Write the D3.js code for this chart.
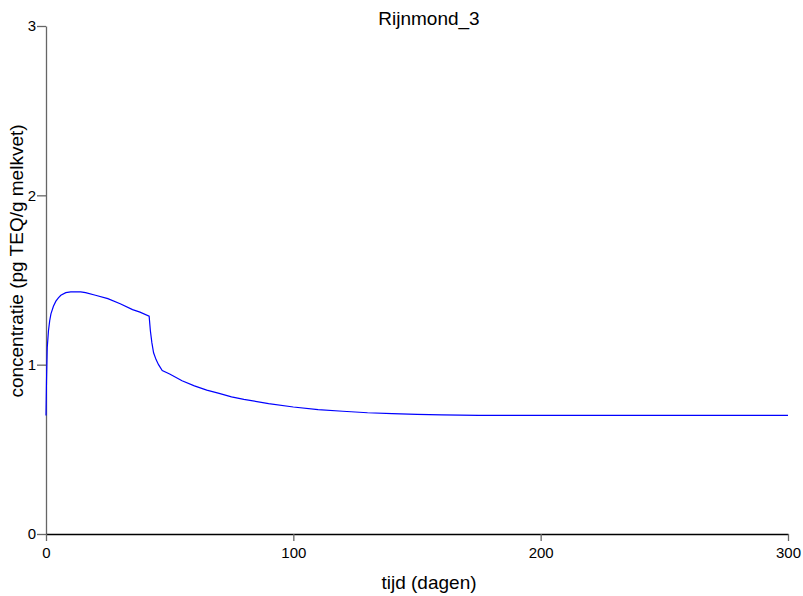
<!DOCTYPE html>
<html>
<head>
<meta charset="utf-8">
<script src="https://cdn.jsdelivr.net/npm/d3@7"></script>
<style>
 body { margin:0; background:#fff; }
 text { font-family: Arial, "Liberation Sans", sans-serif; fill:#000; }
 .tick text { font-size:15px; }
</style>
</head>
<body>
<svg id="chart" width="803" height="596"></svg>
<script>
// tijd (dagen) en concentratie
var tijd = [0, 0.2, 0.5, 1, 1.5, 2, 3, 4, 5, 6, 8, 10, 14, 16, 20, 25, 30, 35, 38, 41.7,
            42.2, 42.8, 43.5, 44.5, 45.5, 47, 50, 55, 60, 65, 70, 75, 80, 90, 100, 110,
            120, 130, 140, 150, 160, 175, 200, 250, 300];
var conc = [0.70, 0.90, 1.10, 1.20, 1.26, 1.30, 1.345, 1.375, 1.395, 1.41, 1.425, 1.43, 1.43, 1.425, 1.41, 1.39, 1.36, 1.325, 1.31, 1.286,
            1.20, 1.13, 1.07, 1.03, 1.00, 0.965, 0.945, 0.905, 0.875, 0.85, 0.83, 0.81, 0.795, 0.77, 0.75, 0.735,
            0.725, 0.716, 0.711, 0.706, 0.704, 0.70, 0.70, 0.70, 0.70];
var xticks = [0, 100, 200, 300];
var yticks = [0, 1, 2, 3];
var titel = "Rijnmond_3";
var xlabel = "tijd (dagen)";
var ylabel = "concentratie (pg TEQ/g melkvet)";

var svg = d3.select("#chart");
var x = d3.scaleLinear().domain([0, 300]).range([46, 788]);
var y = d3.scaleLinear().domain([0, 3]).range([534, 26]);

// y-as (grijs)
var gy = svg.append("g").attr("transform", "translate(46,0)")
  .call(d3.axisLeft(y).tickValues(yticks).tickFormat(d3.format("d")).tickSize(9).tickSizeOuter(0).tickPadding(1));
gy.select(".domain").attr("stroke", "#666").attr("stroke-width", 1.3);
gy.selectAll(".tick line").attr("stroke", "#666").attr("stroke-width", 1.3);
gy.selectAll(".tick text").style("font-size", "15px").style("fill", "#000");

// x-as
var gx = svg.append("g").attr("transform", "translate(0,534)")
  .call(d3.axisBottom(x).tickValues(xticks).tickFormat(d3.format("d")).tickSize(7).tickSizeOuter(0).tickPadding(6));
gx.select(".domain").attr("stroke", "#000").attr("stroke-width", 1.3);
gx.selectAll(".tick line").attr("stroke", "#666").attr("stroke-width", 1.3);
gx.selectAll(".tick text").style("font-size", "15px").style("fill", "#000");

// lijn
var lijn = d3.line().x(function (d, i) { return x(tijd[i]); }).y(function (d) { return y(d); });
svg.append("path").datum(conc)
  .attr("d", lijn)
  .attr("fill", "none")
  .attr("stroke", "#0000ff")
  .attr("stroke-width", 1.2);

svg.append("text").attr("x", 429).attr("y", 25)
  .attr("text-anchor", "middle").style("font-size", "19px").text(titel);
svg.append("text").attr("x", 429).attr("y", 589)
  .attr("text-anchor", "middle").style("font-size", "19px").text(xlabel);
svg.append("text").attr("transform", "translate(23,261) rotate(-90)")
  .attr("text-anchor", "middle").style("font-size", "19px").text(ylabel);
</script>
</body>
</html>
